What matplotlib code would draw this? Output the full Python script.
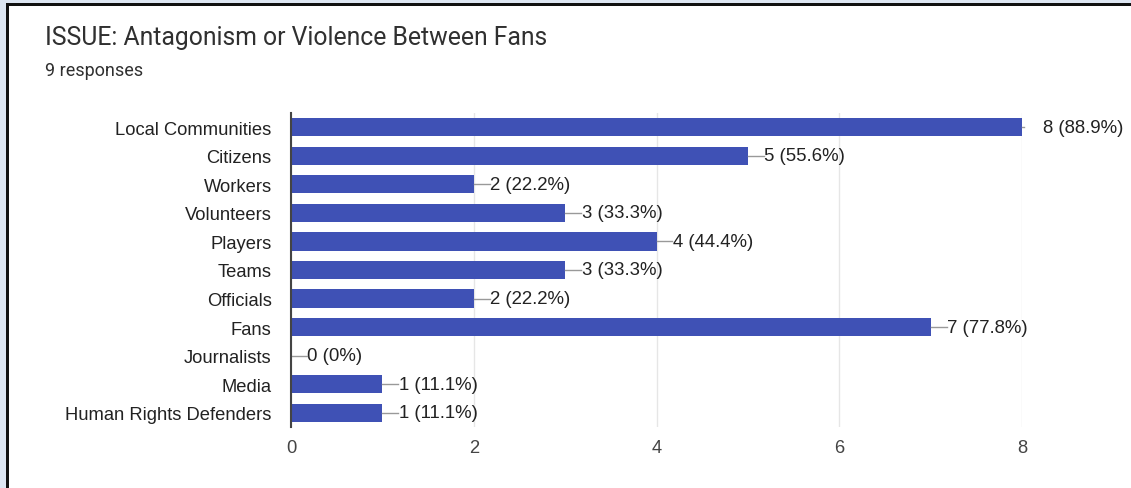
import matplotlib
matplotlib.use("Agg")
import matplotlib.pyplot as plt
from matplotlib.patches import Rectangle
import numpy as np

# Chart data
categories = ["Local Communities", "Citizens", "Workers", "Volunteers", "Players",
              "Teams", "Officials", "Fans", "Journalists", "Media",
              "Human Rights Defenders"]
counts = [8, 5, 2, 3, 4, 3, 2, 7, 0, 1, 1]
percents = ["88.9%", "55.6%", "22.2%", "33.3%", "44.4%", "33.3%",
            "22.2%", "77.8%", "0%", "11.1%", "11.1%"]
x_ticks = [0, 2, 4, 6, 8]
title = "ISSUE: Antagonism or Violence Between Fans"
subtitle = "9 responses"

W, H = 1131, 489
fig = plt.figure(figsize=(W / 100, H / 100), dpi=100)
fig.patch.set_facecolor("white")

# Screenshot frame: light blue strip + black border (top and left)
def px_rect(x0, y0, w, h, color):
    fig.add_artist(Rectangle((x0 / W, 1 - (y0 + h) / H), w / W, h / H,
                             transform=fig.transFigure, facecolor=color,
                             edgecolor="none", zorder=0))

px_rect(0, 0, W, 4, "#dde6f2")
px_rect(0, 0, 6, H, "#dde6f2")
px_rect(6, 4, W, 3, "#111111")
px_rect(6, 4, 2.5, H, "#111111")

fig.text(45 / W, 1 - 38 / H, title, family="Roboto", fontsize=17.8,
         color="#303030", va="center", ha="left")
fig.text(45 / W, 1 - 71 / H, subtitle, family="Roboto", fontsize=13,
         color="#303030", va="center", ha="left")

ax = fig.add_axes([291 / W, 61 / H, (1022 - 291) / W, (428 - 114) / H])
y = np.arange(len(categories))
ax.barh(y, counts, height=0.64, color="#3f51b5", zorder=3)
ax.set_ylim(len(categories) - 0.5, -0.5)
ax.set_xlim(0, 8)
ax.set_yticks(y)
ax.set_yticklabels(categories, family="Liberation Sans", fontsize=13.2, color="#222222")
ax.set_xticks(x_ticks)
ax.set_xticklabels([str(t) for t in x_ticks], family="Liberation Sans",
                   fontsize=13.2, color="#444444")
ax.tick_params(axis="y", length=0, pad=14)
ax.tick_params(axis="x", length=0, pad=9)
ax.grid(axis="x", color="#e6e6e6", linewidth=1, zorder=0)
for s in ["top", "right", "bottom"]:
    ax.spines[s].set_visible(False)
ax.spines["left"].set_color("#444444")
ax.spines["left"].set_linewidth(1.5)
ax.spines["left"].set_zorder(4)

# value labels with short leader lines
unit = 1 / 91.4
for yi, c, p in zip(y, counts, percents):
    if c == ax.get_xlim()[1]:
        ax.plot([c, c + 2 * unit], [yi, yi], color="#999999", lw=1, clip_on=False, zorder=4)
        ax.text(c + 21 * unit, yi, f"{c} ({p})", family="Liberation Sans", fontsize=13.4,
                color="#222222", va="center", ha="left", clip_on=False)
    else:
        ax.plot([c, c + 16 * unit], [yi, yi], color="#999999", lw=1, zorder=4)
        ax.text(c + 16.5 * unit, yi, f"{c} ({p})", family="Liberation Sans", fontsize=13.4,
                color="#222222", va="center", ha="left")

fig.savefig("out.png", dpi=100)
